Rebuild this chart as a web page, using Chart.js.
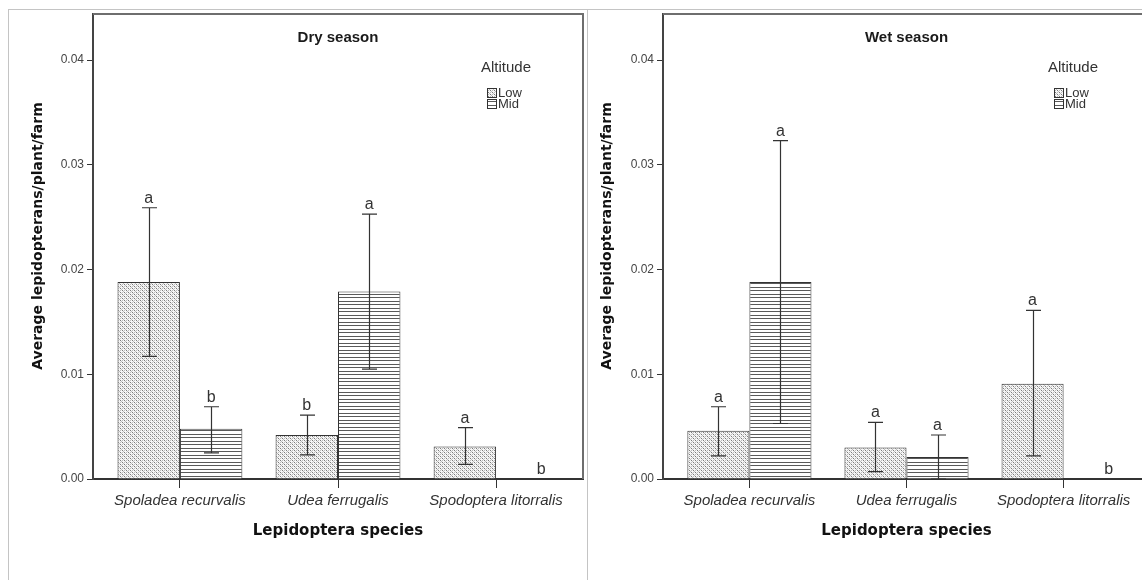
<!DOCTYPE html>
<html>
<head>
<meta charset="utf-8">
<script src="https://cdn.jsdelivr.net/npm/chart.js@4.4.0/dist/chart.umd.min.js"></script>
<style>
  html, body { margin: 0; padding: 0; background: #fff; }
  #page { position: relative; width: 1142px; height: 580px; overflow: hidden; background: #fff; }
  canvas { position: absolute; top: 0; }
  #dry { left: 0; }
  #wet { left: 587px; }
  .rule { position: absolute; background: #c4c4c4; }
</style>
</head>
<body>
<div id="page">
  <canvas id="dry" width="587" height="580"></canvas>
  <canvas id="wet" width="567" height="580"></canvas>
  <div class="rule" style="left:8px;top:9px;width:1134px;height:1px"></div>
  <div class="rule" style="left:8px;top:9px;width:1px;height:571px"></div>
  <div class="rule" style="left:587px;top:9px;width:1px;height:571px"></div>
</div>
<script>
const species = ['Spoladea recurvalis', 'Udea ferrugalis', 'Spodoptera litorralis'];
const altitudes = ['Low', 'Mid'];
const yTicks = [0, 0.01, 0.02, 0.03, 0.04];

// dry season: mean and error bar limits per species
const dryLow = [0.0188, 0.0042, 0.0031];
const dryMid = [0.0048, 0.0179, 0];
const dryLowLower = [0.0117, 0.0023, 0.0014];
const dryLowUpper = [0.0259, 0.0061, 0.0049];
const dryMidLower = [0.0025, 0.0105, null];
const dryMidUpper = [0.0069, 0.0253, null];
const dryLowLetters = ['a', 'b', 'a'];
const dryMidLetters = ['b', 'a', 'b'];

// wet season
const wetLow = [0.0046, 0.0030, 0.0091];
const wetMid = [0.0188, 0.0021, 0];
const wetLowLower = [0.0022, 0.0007, 0.0022];
const wetLowUpper = [0.0069, 0.0054, 0.0161];
const wetMidLower = [0.0053, 0, null];
const wetMidUpper = [0.0323, 0.0042, null];
const wetLowLetters = ['a', 'a', 'a'];
const wetMidLetters = ['a', 'a', 'b'];

const yTitle = 'Average lepidopterans/plant/farm';
const sans = "'Liberation Sans', Arial, sans-serif";
const heavy = "'DejaVu Sans', Verdana, sans-serif";

function stipple(ctx) {
  const c = document.createElement('canvas');
  c.width = 4; c.height = 4;
  const g = c.getContext('2d');
  g.fillStyle = '#f6f6f6';
  g.fillRect(0, 0, 4, 4);
  g.fillStyle = '#7c7c7c';
  g.fillRect(0, 0, 1, 1);
  g.fillRect(2, 2, 1, 1);
  g.fillStyle = '#bdbdbd';
  g.fillRect(2, 0, 1, 1);
  g.fillRect(0, 2, 1, 1);
  g.fillRect(1, 1, 1, 1);
  g.fillRect(3, 3, 1, 1);
  return ctx.createPattern(c, 'repeat');
}

function stripes(ctx) {
  const c = document.createElement('canvas');
  c.width = 4; c.height = 7;
  const g = c.getContext('2d');
  g.fillStyle = '#fff';
  g.fillRect(0, 0, 4, 7);
  g.fillStyle = '#5a5a5a';
  g.fillRect(0, 0, 4, 1);
  g.fillRect(0, 3, 4, 1);
  return ctx.createPattern(c, 'repeat');
}

// error bars, letters, plot frame, titles and legend
function extras(title, titleX, lower, upper, letters) {
  return {
    id: 'extras',
    afterDatasetsDraw(chart) {
      const ctx = chart.ctx;
      const ys = chart.scales.y;
      ctx.save();
      ctx.strokeStyle = '#333';
      ctx.lineWidth = 1.2;
      ctx.fillStyle = '#333';
      ctx.font = '16px ' + sans;
      ctx.textAlign = 'center';
      ctx.textBaseline = 'alphabetic';
      chart.data.datasets.forEach((ds, d) => {
        chart.getDatasetMeta(d).data.forEach((bar, i) => {
          const cx = Math.round(bar.x) + 0.5;
          let top = ys.getPixelForValue(ds.data[i].y);
          if (lower[d][i] !== null) {
            const lo = ys.getPixelForValue(lower[d][i]);
            const hi = ys.getPixelForValue(upper[d][i]);
            ctx.beginPath();
            ctx.moveTo(cx, lo); ctx.lineTo(cx, hi);
            ctx.moveTo(cx - 7.5, hi); ctx.lineTo(cx + 7.5, hi);
            ctx.moveTo(cx - 7.5, lo); ctx.lineTo(cx + 7.5, lo);
            ctx.stroke();
            top = Math.min(top, hi);
          }
          const shift = ds.data[i].y === 0 ? 14 : 0;
          ctx.fillText(letters[d][i], bar.x + shift, top - 5);
        });
      });
      ctx.restore();
    },
    afterDraw(chart) {
      const ctx = chart.ctx;
      const a = chart.chartArea;
      ctx.save();
      // top and right edge of the plot box
      ctx.strokeStyle = '#6e6e6e';
      ctx.lineWidth = 2;
      ctx.beginPath();
      ctx.moveTo(a.left, a.top);
      ctx.lineTo(a.right, a.top);
      ctx.lineTo(a.right, a.bottom);
      ctx.stroke();

      ctx.fillStyle = '#1a1a1a';
      ctx.font = 'bold 15px ' + sans;
      ctx.textAlign = 'center';
      ctx.textBaseline = 'middle';
      ctx.fillText(title, chart.scales.x.getPixelForValue(1), 38);

      // rotated y axis title
      ctx.save();
      ctx.translate(titleX, 236);
      ctx.rotate(-Math.PI / 2);
      ctx.fillStyle = '#111';
      ctx.font = 'bold 14px ' + heavy;
      ctx.fillText(yTitle, 0, 0);
      ctx.restore();

      // legend
      const lx = a.right - 102;
      ctx.textAlign = 'left';
      ctx.fillStyle = '#333';
      ctx.font = '15px ' + sans;
      ctx.fillText('Altitude', lx, 68);
      ctx.font = '13px ' + sans;
      chart.data.datasets.forEach((ds, d) => {
        const sy = 88 + d * 11;
        ctx.fillStyle = ds.backgroundColor;
        ctx.fillRect(lx + 6, sy, 10, 10);
        ctx.strokeStyle = '#333';
        ctx.lineWidth = 1;
        ctx.strokeRect(lx + 6.5, sy + 0.5, 9, 9);
        ctx.fillStyle = '#333';
        ctx.fillText(ds.label, lx + 17, sy + 5.5);
      });
      ctx.restore();
    }
  };
}

function makeChart(id, low, mid, lower, upper, letters, title, yWidth, titleX) {
  const canvas = document.getElementById(id);
  const ctx = canvas.getContext('2d');
  return new Chart(canvas, {
    type: 'bar',
    data: {
      datasets: [
        {
          label: altitudes[0],
          data: low.map((v, i) => ({ x: i, y: v })),
          backgroundColor: stipple(ctx),
          borderColor: '#333',
          borderWidth: 1
        },
        {
          label: altitudes[1],
          data: mid.map((v, i) => ({ x: i, y: v })),
          backgroundColor: stripes(ctx),
          borderColor: '#333',
          borderWidth: 1
        }
      ]
    },
    options: {
      responsive: false,
      animation: false,
      events: [],
      categoryPercentage: 0.79,
      barPercentage: 1,
      layout: { padding: { left: 0, top: 14, right: 4, bottom: 0 } },
      plugins: { legend: { display: false }, tooltip: { enabled: false } },
      scales: {
        x: {
          type: 'linear',
          min: -0.55,
          max: 2.55,
          offset: false,
          afterBuildTicks: (s) => { s.ticks = species.map((n, i) => ({ value: i })); },
          afterFit: (s) => { s.height = 101; },
          grid: { drawOnChartArea: false, offset: false, tickLength: 9, color: '#333' },
          border: { color: '#333', width: 2 },
          ticks: {
            callback: (v) => species[v],
            font: { family: sans, size: 15, style: 'italic' },
            color: '#333',
            padding: 4,
            maxRotation: 0,
            autoSkip: false
          },
          title: {
            display: true,
            text: 'Lepidoptera species',
            font: { family: heavy, size: 15, weight: 'bold' },
            color: '#111',
            padding: { top: 0, bottom: 40 }
          }
        },
        y: {
          min: 0,
          max: 0.0444,
          afterBuildTicks: (s) => { s.ticks = yTicks.map(v => ({ value: v })); },
          afterFit: (s) => { s.width = yWidth; },
          grid: { drawOnChartArea: false, tickLength: 6, color: '#333' },
          border: { color: '#444', width: 2 },
          ticks: {
            callback: (v) => v.toFixed(2),
            font: { family: sans, size: 12 },
            color: '#444',
            padding: 3
          }
        }
      }
    },
    plugins: [extras(title, titleX, lower, upper, letters)]
  });
}

makeChart('dry', dryLow, dryMid, [dryLowLower, dryMidLower], [dryLowUpper, dryMidUpper],
  [dryLowLetters, dryMidLetters], 'Dry season', 93, 38);
makeChart('wet', wetLow, wetMid, [wetLowLower, wetMidLower], [wetLowUpper, wetMidUpper],
  [wetLowLetters, wetMidLetters], 'Wet season', 76, 20);
</script>
</body>
</html>
